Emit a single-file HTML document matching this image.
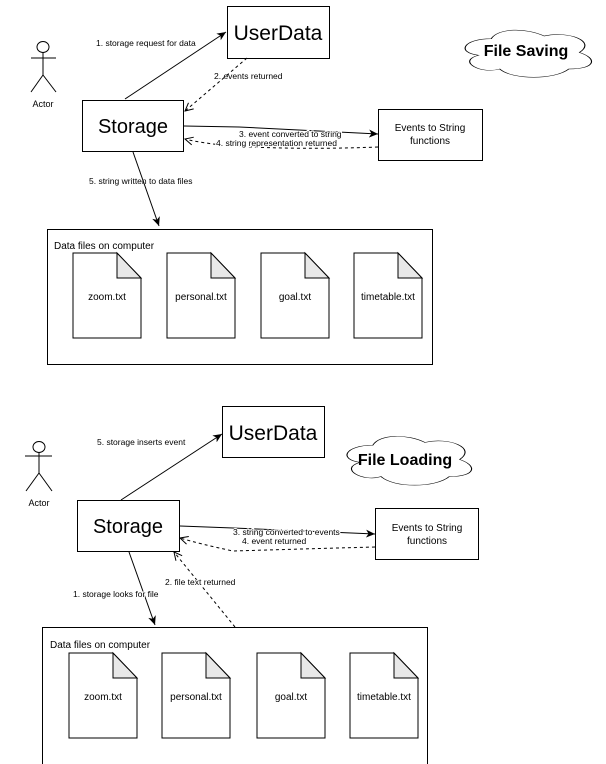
<!DOCTYPE html>
<html><head><meta charset="utf-8"><style>
html,body{margin:0;padding:0;background:#fff;}
svg{display:block;}
text{font-family:"Liberation Sans",Arial,sans-serif;fill:#000;}
</style></head><body>
<svg width="606" height="764" viewBox="0 0 606 764" xmlns="http://www.w3.org/2000/svg">
<defs>
<marker id="af" markerWidth="10" markerHeight="8" refX="9" refY="4" orient="auto" markerUnits="userSpaceOnUse">
<path d="M0,0 L9,4 L0,8 L2.5,4 Z" fill="#000"/></marker>
<marker id="ao" markerWidth="10" markerHeight="10" refX="9" refY="5" orient="auto" markerUnits="userSpaceOnUse">
<path d="M1,1 L9,5 L1,9" fill="none" stroke="#000" stroke-width="1"/></marker>
<path id="cloud" d="M0.25,0.25 C0.05,0.25 0,0.5 0.16,0.55 C0,0.66 0.18,0.9 0.31,0.8 C0.4,1 0.7,1 0.8,0.8 C1,0.8 1,0.6 0.875,0.5 C1,0.3 0.8,0.1 0.625,0.2 C0.5,0.05 0.3,0.05 0.25,0.25 Z"/>
<g id="file"><path d="M0,0 H44 L68,25 V85 H0 Z" fill="#fff" stroke="#000" stroke-width="1"/><path d="M44,0 V25 H68 Z" fill="#e8e8e8" stroke="#000" stroke-width="1"/></g>
</defs>

<!-- ===== TOP: File Saving ===== -->
<rect x="227.5" y="6.5" width="102" height="52" fill="#fff" stroke="#000"/>
<text x="278" y="40" font-size="21" text-anchor="middle">UserData</text>

<use href="#cloud" transform="translate(456,25) scale(141,55)" fill="#fff" stroke="#000" stroke-width="1" vector-effect="non-scaling-stroke" style="stroke-width:0.008"/>
<text x="526" y="56" font-size="16" font-weight="bold" text-anchor="middle">File Saving</text>

<!-- actor -->
<g fill="none" stroke="#000" stroke-width="1">
<ellipse cx="43" cy="47" rx="6" ry="5.5"/>
<line x1="43" y1="52.5" x2="43" y2="75"/>
<line x1="31" y1="58" x2="56" y2="58"/>
<line x1="43" y1="75" x2="31" y2="92"/>
<line x1="43" y1="75" x2="56" y2="92"/>
</g>
<text x="43" y="107" font-size="9" text-anchor="middle">Actor</text>

<rect x="82.5" y="100.5" width="101" height="51" fill="#fff" stroke="#000"/>
<text x="133" y="133" font-size="20" text-anchor="middle">Storage</text>

<rect x="378.5" y="109.5" width="104" height="51" fill="#fff" stroke="#000"/>
<text x="430" y="131" font-size="10" text-anchor="middle">Events to String</text>
<text x="430" y="144" font-size="10" text-anchor="middle">functions</text>

<rect x="47.5" y="229.5" width="385" height="135" fill="#fff" stroke="#000"/>
<text x="54" y="249" font-size="10">Data files on computer</text>
<use href="#file" x="73" y="253"/><text x="107" y="300" font-size="10" text-anchor="middle">zoom.txt</text>
<use href="#file" x="167" y="253"/><text x="201" y="300" font-size="10" text-anchor="middle">personal.txt</text>
<use href="#file" x="261" y="253"/><text x="295" y="300" font-size="10" text-anchor="middle">goal.txt</text>
<use href="#file" x="354" y="253"/><text x="388" y="300" font-size="10" text-anchor="middle">timetable.txt</text>

<g fill="none" stroke="#000" stroke-width="1">
<line x1="125" y1="99" x2="226" y2="32" marker-end="url(#af)"/>
<line x1="247" y1="58" x2="185" y2="111" stroke-dasharray="3,3" marker-end="url(#ao)"/>
<path d="M184,126 L239,127 L378,134" marker-end="url(#af)"/>
<path d="M378,147 Q300,150 232,146 Q200,143 185,139" stroke-dasharray="3,3" marker-end="url(#ao)"/>
<line x1="133" y1="152" x2="159" y2="226" marker-end="url(#af)"/>
</g>
<g font-size="8.5">
<text x="96" y="46" style="paint-order:stroke" stroke="#fff" stroke-width="2">1. storage request for data</text>
<text x="214" y="79">2. events returned</text>
<text x="239" y="137" style="paint-order:stroke" stroke="#fff" stroke-width="2">3. event converted to string</text>
<text x="216" y="146" style="paint-order:stroke" stroke="#fff" stroke-width="2">4. string representation returned</text>
<text x="89" y="184">5. string written to data files</text>
</g>

<!-- ===== BOTTOM: File Loading ===== -->
<rect x="222.5" y="406.5" width="102" height="51" fill="#fff" stroke="#000"/>
<text x="273" y="440" font-size="21" text-anchor="middle">UserData</text>

<use href="#cloud" transform="translate(338,431) scale(139,57)" fill="#fff" stroke="#000" vector-effect="non-scaling-stroke" style="stroke-width:0.008"/>
<text x="405" y="465" font-size="16" font-weight="bold" text-anchor="middle">File Loading</text>

<g fill="none" stroke="#000" stroke-width="1">
<ellipse cx="39" cy="447" rx="6" ry="5.5"/>
<line x1="39" y1="452.5" x2="39" y2="473"/>
<line x1="25" y1="456" x2="52" y2="456"/>
<line x1="39" y1="473" x2="26" y2="491"/>
<line x1="39" y1="473" x2="52" y2="491"/>
</g>
<text x="39" y="506" font-size="9" text-anchor="middle">Actor</text>

<rect x="77.5" y="500.5" width="102" height="51" fill="#fff" stroke="#000"/>
<text x="128" y="533" font-size="20" text-anchor="middle">Storage</text>

<rect x="375.5" y="508.5" width="103" height="51" fill="#fff" stroke="#000"/>
<text x="427" y="531" font-size="10" text-anchor="middle">Events to String</text>
<text x="427" y="544" font-size="10" text-anchor="middle">functions</text>

<rect x="42.5" y="627.5" width="385" height="150" fill="#fff" stroke="#000"/>
<text x="50" y="648" font-size="10">Data files on computer</text>
<use href="#file" x="69" y="653"/><text x="103" y="700" font-size="10" text-anchor="middle">zoom.txt</text>
<use href="#file" x="162" y="653"/><text x="196" y="700" font-size="10" text-anchor="middle">personal.txt</text>
<use href="#file" x="257" y="653"/><text x="291" y="700" font-size="10" text-anchor="middle">goal.txt</text>
<use href="#file" x="350" y="653"/><text x="384" y="700" font-size="10" text-anchor="middle">timetable.txt</text>

<g fill="none" stroke="#000" stroke-width="1">
<line x1="121" y1="500" x2="222" y2="434" marker-end="url(#af)"/>
<path d="M180,526 L233,528 L375,534" marker-end="url(#af)"/>
<path d="M375,547 Q300,549 233,551 Q200,544 180,538" stroke-dasharray="3,3" marker-end="url(#ao)"/>
<line x1="129" y1="552" x2="155" y2="625" marker-end="url(#af)"/>
<line x1="235" y1="627" x2="174" y2="552" stroke-dasharray="3,3" marker-end="url(#ao)"/>
</g>
<g font-size="8.5">
<text x="97" y="445">5. storage inserts event</text>
<text x="233" y="535" style="paint-order:stroke" stroke="#fff" stroke-width="2">3. string converted to events</text>
<text x="242" y="544" style="paint-order:stroke" stroke="#fff" stroke-width="2">4. event returned</text>
<text x="165" y="585" style="paint-order:stroke" stroke="#fff" stroke-width="2">2. file text returned</text>
<text x="73" y="597" style="paint-order:stroke" stroke="#fff" stroke-width="2">1. storage looks for file</text>
</g>
</svg>
</body></html>
